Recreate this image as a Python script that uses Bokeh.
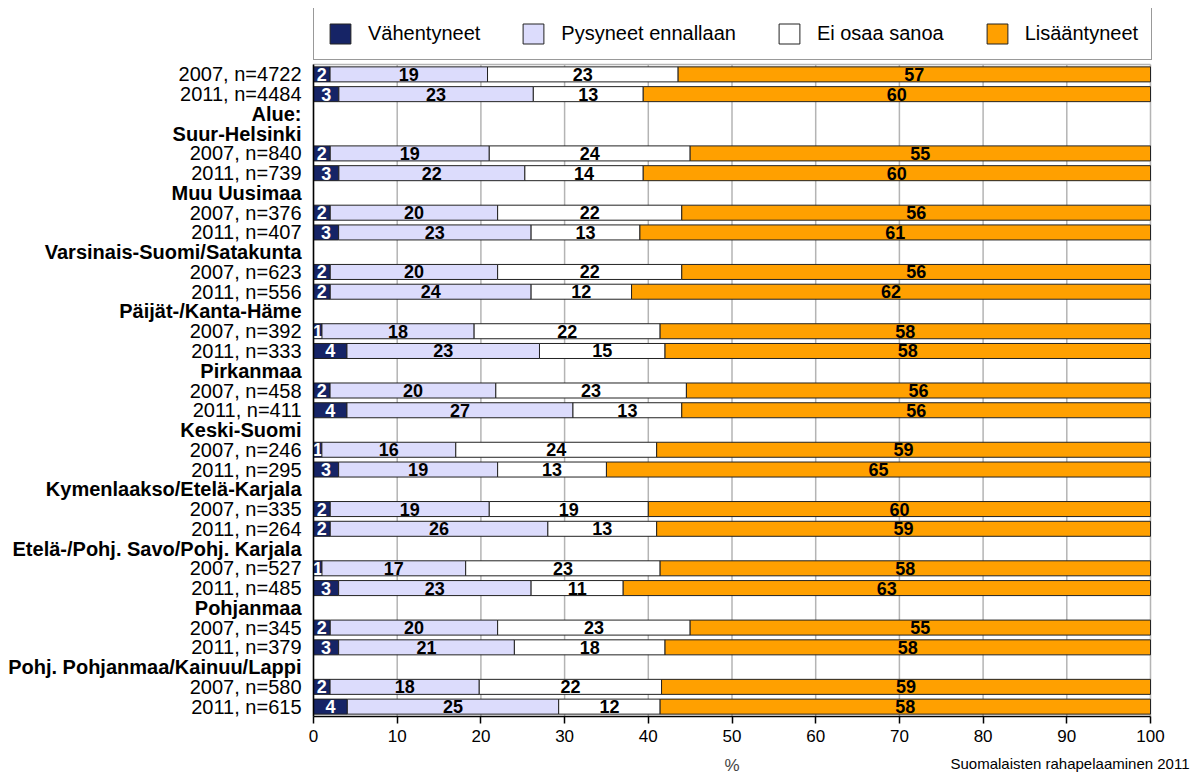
from bokeh.plotting import figure
from bokeh.models import (ColumnDataSource, Range1d, FixedTicker, Legend, LegendItem)
from bokeh.core.properties import value
from bokeh.embed import file_html
from bokeh.resources import INLINE

# ---- data ----
row_labels = [
    "2007, n=4722", "2011, n=4484", "Alue:",
    "Suur-Helsinki", "2007, n=840", "2011, n=739",
    "Muu Uusimaa", "2007, n=376", "2011, n=407",
    "Varsinais-Suomi/Satakunta", "2007, n=623", "2011, n=556",
    "Päijät-/Kanta-Häme", "2007, n=392", "2011, n=333",
    "Pirkanmaa", "2007, n=458", "2011, n=411",
    "Keski-Suomi", "2007, n=246", "2011, n=295",
    "Kymenlaakso/Etelä-Karjala", "2007, n=335", "2011, n=264",
    "Etelä-/Pohj. Savo/Pohj. Karjala", "2007, n=527", "2011, n=485",
    "Pohjanmaa", "2007, n=345", "2011, n=379",
    "Pohj. Pohjanmaa/Kainuu/Lappi", "2007, n=580", "2011, n=615",
]
header_labels = [
    "Alue:", "Suur-Helsinki", "Muu Uusimaa", "Varsinais-Suomi/Satakunta",
    "Päijät-/Kanta-Häme", "Pirkanmaa", "Keski-Suomi", "Kymenlaakso/Etelä-Karjala",
    "Etelä-/Pohj. Savo/Pohj. Karjala", "Pohjanmaa", "Pohj. Pohjanmaa/Kainuu/Lappi",
]
series_names = ["Vähentyneet", "Pysyneet ennallaan", "Ei osaa sanoa", "Lisääntyneet"]
vahentyneet = [2, 3, 2, 3, 2, 3, 2, 2, 1, 4, 2, 4, 1, 3, 2, 2, 1, 3, 2, 3, 2, 4]
pysyneet = [19, 23, 19, 22, 20, 23, 20, 24, 18, 23, 20, 27, 16, 19, 19, 26, 17, 23, 20, 21, 18, 25]
ei_osaa = [23, 13, 24, 14, 22, 13, 22, 12, 22, 15, 23, 13, 24, 13, 19, 13, 23, 11, 23, 18, 22, 12]
lisaantyneet = [57, 60, 55, 60, 56, 61, 56, 62, 58, 58, 56, 56, 59, 65, 60, 59, 58, 63, 55, 58, 59, 58]
x_ticks = [0, 10, 20, 30, 40, 50, 60, 70, 80, 90, 100]
footnote = "Suomalaisten rahapelaaminen 2011"

colors = ["#162466", "#dcdcfc", "#ffffff", "#ffa000"]
text_colors = ["white", "black", "black", "black"]
FONT = "Liberation Sans"

# ---- layout constants (pixels) ----
FIG_W, FIG_H = 1191, 775
BORDER = 8
LABEL_W = 305            # room left of x=0 for the category labels
PLOT_W = 837             # width of 0..100
RIGHT_W = 41             # room right of x=100 (footnote)
TOP_H = 56               # room above the rows (legend)
ROWS_H = 652             # height of the rows
BOTTOM_H = 59            # room below the axis (ticks, "%", footnote)

n_rows = len(row_labels)
ppx = PLOT_W / (x_ticks[-1] - x_ticks[0])
ppy = ROWS_H / n_rows
x_start = x_ticks[0] - LABEL_W / ppx
x_end = x_ticks[-1] + RIGHT_W / ppx
y_start = -BOTTOM_H / ppy
y_end = n_rows + TOP_H / ppy

row_y = {lab: n_rows - i - 0.5 for i, lab in enumerate(row_labels)}
data_rows = [lab for lab in row_labels if lab not in header_labels]
ys = [row_y[lab] for lab in data_rows]

p = figure(width=FIG_W, height=FIG_H, output_backend="svg", toolbar_location=None,
           x_range=Range1d(x_start, x_end), y_range=Range1d(y_start, y_end),
           min_border_left=BORDER, min_border_right=0, min_border_top=BORDER,
           min_border_bottom=0)
p.outline_line_color = None
p.xgrid.grid_line_color = None
p.ygrid.grid_line_color = None

# vertical gridlines and top frame line
p.segment(x0=x_ticks, x1=x_ticks, y0=[0] * len(x_ticks), y1=[n_rows] * len(x_ticks),
          line_color="#b4b4b4", line_width=1.5)
p.segment(x0=[x_ticks[0]], x1=[x_ticks[-1]], y0=[n_rows], y1=[n_rows],
          line_color="#b4b4b4", line_width=1.5)

series = [vahentyneet, pysyneet, ei_osaa, lisaantyneet]
totals = [sum(v[i] for v in series) for i in range(len(data_rows))]
lefts = [0.0] * len(data_rows)
renderers = []
for k, vals in enumerate(series):
    widths = [vals[i] * 100.0 / totals[i] for i in range(len(data_rows))]
    rights = [lefts[i] + widths[i] for i in range(len(data_rows))]
    mids = [(lefts[i] + rights[i]) / 2 for i in range(len(data_rows))]
    src = ColumnDataSource(dict(y=ys, left=lefts, right=rights, mid=mids,
                                txt=[str(v) for v in vals]))
    r = p.hbar(y="y", left="left", right="right", height=0.76, source=src,
               fill_color=colors[k], line_color="#222222", line_width=1)
    renderers.append(r)
    p.text(x="mid", y="y", text="txt", source=src, text_align="center",
           text_baseline="middle", text_font=value(FONT), text_font_style="bold",
           text_font_size="18px", text_color=text_colors[k])
    lefts = rights

# left axis line
p.segment(x0=[x_ticks[0]], x1=[x_ticks[0]], y0=[0], y1=[n_rows],
          line_color="black", line_width=1.5)

# category labels (bold for region headers)
cat_src = ColumnDataSource(dict(
    x=[x_ticks[0]] * n_rows,
    y=[row_y[l] for l in row_labels],
    t=row_labels,
    style=["bold" if l in header_labels else "normal" for l in row_labels],
))
p.text(x="x", y="y", text="t", source=cat_src, x_offset=-12, text_align="right",
       text_baseline="middle", text_font=value(FONT), text_font_size="20px",
       text_font_style="style", text_color="black")

# footnote
p.text(x=[x_ticks[-1]], y=[0], text=[footnote], x_offset=RIGHT_W - 2, y_offset=47,
       text_align="right", text_baseline="middle", text_font=value(FONT),
       text_font_size="15px", text_color="black")

# x axis drawn at y=0 inside the frame
p.yaxis.visible = False
p.xaxis.fixed_location = 0
p.xaxis.ticker = FixedTicker(ticks=x_ticks)
p.xaxis.bounds = (x_ticks[0], x_ticks[-1])
p.xaxis.major_label_text_font = FONT
p.xaxis.major_label_text_font_size = "17px"
p.xaxis.major_label_text_color = "black"
p.xaxis.major_tick_out = 7
p.xaxis.major_tick_in = 0
p.xaxis.minor_tick_line_color = None
p.xaxis.axis_line_color = "black"
p.xaxis.axis_line_width = 1.5
p.xaxis.major_tick_line_color = "black"
p.xaxis.major_tick_line_width = 1.5
p.xaxis.major_label_standoff = 6
p.xaxis.axis_label = "%"
p.xaxis.axis_label_text_font = FONT
p.xaxis.axis_label_text_font_size = "17px"
p.xaxis.axis_label_text_font_style = "normal"
p.xaxis.axis_label_standoff = 11

legend = Legend(items=[LegendItem(label=series_names[k], renderers=[renderers[k]]) for k in range(4)],
                orientation="horizontal",
                location=(LABEL_W, ROWS_H + BOTTOM_H + 4),
                glyph_width=26, glyph_height=25, label_standoff=15, spacing=40,
                padding=13, margin=0, label_text_font=FONT, label_text_font_size="20px",
                label_text_color="black", border_line_color="#333333", border_line_width=1.5,
                background_fill_color="white", background_fill_alpha=1.0)
p.add_layout(legend)

open("out.html", "w").write(file_html(p, INLINE))
